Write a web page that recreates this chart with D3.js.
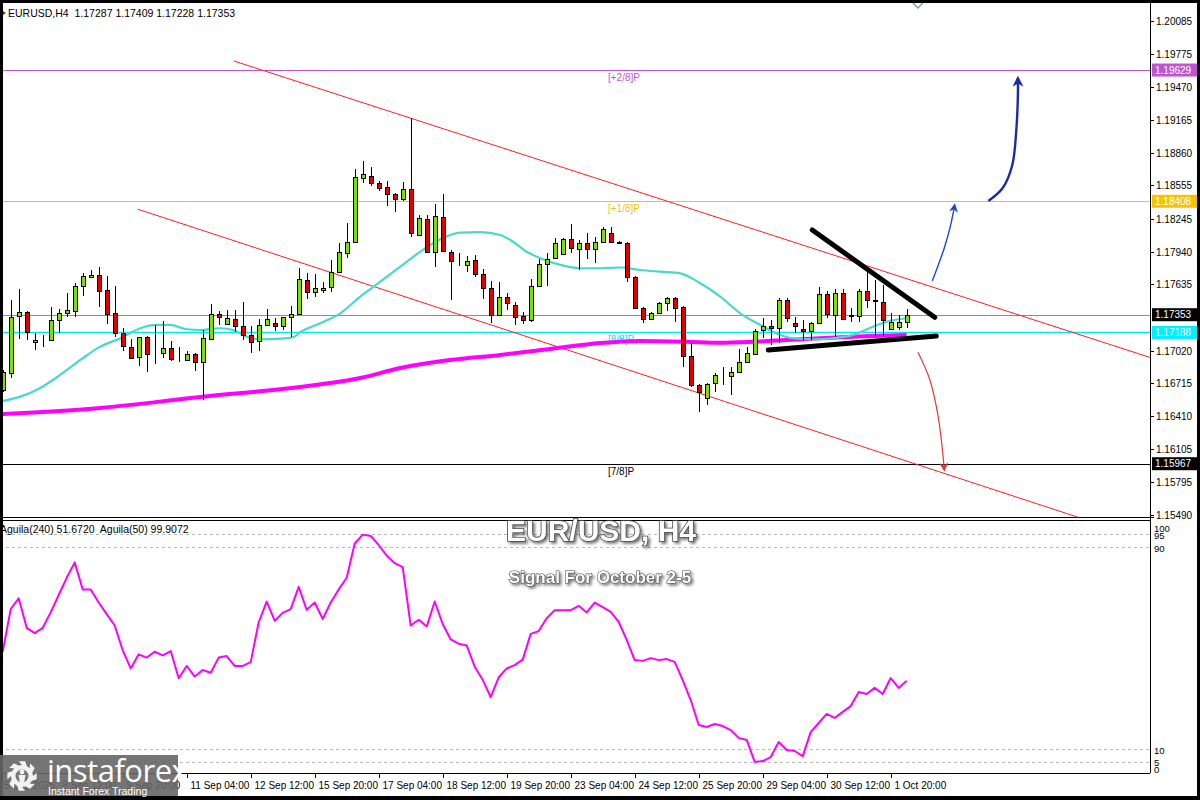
<!DOCTYPE html>
<html><head><meta charset="utf-8">
<script src="https://cdn.jsdelivr.net/npm/d3@7"></script>
<style>body{margin:0;background:#000}svg{display:block}</style>
</head><body><svg id="c" width="1200" height="800"></svg>
<script>
// ---------- DATA (EURUSD H4, bars from 5 Sep 2025 to 2 Oct 04:00) ----------
const openP = [1.16653,1.16814,1.17341,1.17378,1.17099,1.17118,1.17118,1.17304,1.17369,1.17388,
1.17620,1.17704,1.17723,1.17583,1.17369,1.17183,1.17053,1.16960,1.17146,1.16992,
1.16997,1.17044,1.16927,1.16932,1.16988,1.16913,1.17127,1.17360,1.17267,1.17313,
1.17248,1.17165,1.17109,1.17258,1.17276,1.17248,1.17332,1.17360,1.17676,1.17564,
1.17583,1.17611,1.17750,1.17927,1.18029,1.18627,1.18643,1.18578,1.18541,1.18476,
1.18429,1.18522,1.18095,1.18243,1.17936,1.18262,1.17936,1.17857,1.17816,1.17862,
1.17732,1.17602,1.17351,1.17518,1.17444,1.17341,1.17304,1.17620,1.17825,1.17881,
1.17918,1.18057,1.17964,1.18020,1.17964,1.18029,1.18113,1.18025,1.18020,1.17704,
1.17416,1.17313,1.17369,1.17462,1.17509,1.17425,1.16969,1.16700,1.16579,1.16718,
1.16793,1.16783,1.16820,1.16913,1.16988,1.17211,1.17248,1.17230,1.17490,1.17276,
1.17220,1.17202,1.17276,1.17546,1.17351,1.17555,1.17346,1.17341,1.17574,1.17490,
1.17471,1.17220,1.17239,1.17287];
const highP = [1.16839,1.17490,1.17592,1.17388,1.17183,1.17165,1.17425,1.17406,1.17555,1.17648,
1.17741,1.17769,1.17797,1.17713,1.17620,1.17230,1.17127,1.17150,1.17155,1.17258,
1.17295,1.17109,1.17053,1.17016,1.16997,1.17211,1.17453,1.17388,1.17397,1.17397,
1.17471,1.17248,1.17313,1.17406,1.17323,1.17336,1.17434,1.17788,1.17741,1.17732,
1.17657,1.17862,1.18020,1.18206,1.18708,1.18783,1.18727,1.18597,1.18597,1.18485,
1.18587,1.19183,1.18281,1.18281,1.18383,1.18476,1.17955,1.17927,1.17899,1.17909,
1.17778,1.17667,1.17657,1.17555,1.17471,1.17378,1.17685,1.17871,1.17927,1.18067,
1.18062,1.18197,1.18048,1.18113,1.18076,1.18169,1.18169,1.18039,1.18029,1.17713,
1.17425,1.17378,1.17471,1.17518,1.17518,1.17430,1.17099,1.16709,1.16718,1.16811,
1.16867,1.16867,1.17034,1.17053,1.17220,1.17323,1.17304,1.17509,1.17509,1.17332,
1.17304,1.17285,1.17611,1.17574,1.17592,1.17592,1.17416,1.17592,1.17769,1.17676,
1.17630,1.17369,1.17351,1.17409];
const lowP = [1.16634,1.16765,1.17127,1.17118,1.17025,1.17053,1.17109,1.17183,1.17332,1.17332,
1.17527,1.17695,1.17425,1.17267,1.17146,1.17016,1.16946,1.16876,1.16820,1.16895,
1.16951,1.16923,1.16913,1.16923,1.16830,1.16560,1.17118,1.17258,1.17258,1.17192,
1.17118,1.16997,1.17016,1.17248,1.17202,1.17211,1.17146,1.17351,1.17499,1.17518,
1.17555,1.17564,1.17741,1.17881,1.18020,1.18578,1.18550,1.18504,1.18364,1.18308,
1.18411,1.18076,1.18085,1.17927,1.17797,1.17936,1.17490,1.17806,1.17750,1.17704,
1.17499,1.17276,1.17341,1.17397,1.17258,1.17267,1.17285,1.17611,1.17620,1.17871,
1.17909,1.17927,1.17769,1.17871,1.17834,1.18020,1.18020,1.18011,1.17657,1.17406,
1.17276,1.17304,1.17365,1.17388,1.17285,1.16867,1.16681,1.16448,1.16514,1.16634,
1.16700,1.16607,1.16811,1.16904,1.16979,1.17137,1.17072,1.17090,1.17285,1.17183,
1.17118,1.17118,1.17270,1.17323,1.17146,1.17304,1.17285,1.17285,1.17416,1.17146,
1.17146,1.17211,1.17211,1.17228];
const closeP = [1.16820,1.17329,1.17378,1.17192,1.17118,1.17115,1.17304,1.17369,1.17397,1.17620,
1.17713,1.17723,1.17574,1.17360,1.17183,1.17062,1.16951,1.17146,1.16988,1.16988,
1.17044,1.16941,1.16923,1.16988,1.16913,1.17137,1.17360,1.17332,1.17323,1.17248,
1.17165,1.17099,1.17258,1.17313,1.17248,1.17332,1.17360,1.17685,1.17564,1.17602,
1.17602,1.17750,1.17936,1.18029,1.18634,1.18659,1.18578,1.18532,1.18476,1.18429,
1.18522,1.18113,1.18253,1.17936,1.18271,1.17946,1.17853,1.17853,1.17853,1.17732,
1.17602,1.17351,1.17518,1.17462,1.17332,1.17304,1.17620,1.17825,1.17871,1.18020,
1.18057,1.17974,1.18020,1.17964,1.18029,1.18150,1.18029,1.18020,1.17704,1.17416,
1.17313,1.17369,1.17462,1.17509,1.17416,1.16969,1.16700,1.16634,1.16709,1.16793,
1.16788,1.16820,1.16913,1.16997,1.17202,1.17248,1.17230,1.17490,1.17323,1.17248,
1.17202,1.17276,1.17546,1.17360,1.17555,1.17313,1.17341,1.17574,1.17490,1.17485,
1.17304,1.17285,1.17285,1.17353];

// Moving averages read at sample bars (bar index, price)
const maFastIdx = [0,2.2,4.7,7.2,9.7,12.2,14.7,17.2,19.2,20.9,23,24.7,27.2,28.8,30.5,32.2,34.7,36.3,37.2,39.7,42.2,44.7,47.2,49.7,52.2,54.7,57.2,59.7,62.2,63.8,65.5,67.2,69.7,72.2,74.7,77.2,79.7,82.2,84.7,87.2,89.7,92.2,94.7,97.2,98.8,101.3,103.8,106.3,108.8,110.5,113];
const maFastVal = [1.16551,1.16591,1.16672,1.16793,1.16932,1.17056,1.17134,1.17227,1.17258,1.17258,1.17218,1.17211,1.17227,1.17211,1.17149,1.17124,1.17130,1.17143,1.17192,1.17274,1.17366,1.17521,1.17660,1.17800,1.17939,1.18054,1.18116,1.18122,1.18095,1.18032,1.17939,1.17878,1.17816,1.17785,1.17785,1.17792,1.17769,1.17753,1.17738,1.17645,1.17521,1.17366,1.17258,1.17165,1.17134,1.17124,1.17134,1.17165,1.17242,1.17288,1.17320];
const maSlowIdx = [0,12.2,24.7,37.2,40.9,44.7,49.7,55.9,62.2,68.4,74.7,79.7,85.5,89.7,93.8,98,102.2,106.3,113];
const maSlowVal = [1.16430,1.16486,1.16588,1.16681,1.16718,1.16765,1.16858,1.16932,1.16979,1.17034,1.17090,1.17109,1.17102,1.17093,1.17102,1.17118,1.17134,1.17149,1.17165];

// Aguila(50) oscillator, one value per bar
const aguila = [48.5,65.4,69.7,58.0,55.9,58.0,64.1,71.0,77.8,83.9,73.2,73.2,68.0,63.4,58.9,49.1,41.9,47.5,46.2,48.5,
47.1,48.8,38.0,42.9,38.7,41.3,40.2,46.2,46.8,42.9,42.9,44.4,60.2,68.4,60.8,63.9,65.4,74.2,65.1,68.0,
61.5,68.0,73.2,77.8,91.4,94.9,94.4,90.8,86.6,83.6,82.0,58.9,61.2,58.5,68.4,59.5,53.4,51.7,51.0,42.6,
37.4,30.5,38.4,41.9,43.2,45.4,55.6,56.7,61.8,65.0,65.0,65.0,66.7,64.1,68.0,66.2,64.3,60.3,53.2,45.2,
44.9,46.0,45.2,45.6,44.5,37.3,29.4,19.5,18.7,19.9,19.1,17.5,14.4,13.6,4.9,5.2,6.8,12.8,9.6,9.2,
7.2,16.7,20.3,23.9,22.3,24.7,27.0,32.6,31.8,34.2,31.8,38.1,34.2,37.0];

// Levels
const levelPrices = [1.19629,1.18408,1.17188,1.15967];
const levelNames  = ["[+2/8]P","[+1/8]P","[8/8]P","[7/8]P"];
const levelColors = ["#bf55d0","#f5c400","#00e8f0","#000000"];
const currentPrice = 1.17353;

// Axis ticks
const priceTicks = [1.20085,1.19775,1.19470,1.19165,1.18860,1.18555,1.18245,1.17940,1.17635,1.17020,1.16715,1.16410,1.16105,1.15795,1.15490];
const timeTickIdx = [7,15,23,31,39,47,55,63,71,79,87,95,103,111];
const timeTickLabels = ["8 Sep 12:00","9 Sep 20:00","11 Sep 04:00","12 Sep 12:00","15 Sep 20:00","17 Sep 04:00","18 Sep 12:00","19 Sep 20:00","23 Sep 04:00","24 Sep 12:00","25 Sep 20:00","29 Sep 04:00","30 Sep 12:00","1 Oct 20:00"];
const oscLabels = [100,95,90,10,5,0];
const oscDashed = [95,90,10,5];

// Drawn analysis objects (bar index, price)
const chanUpper = [[28.9,1.19713],[143.4,1.16956]];
const chanLower = [[16.9,1.18334],[134.3,1.15472]];
const triUpper = [[101.2,1.18141],[116.5,1.17329]];
const triLower = [[95.7,1.17025],[116.7,1.17155]];
const arrowUp1 = [[116.2,1.17667],[117.7,1.17974],[118.5,1.18188],[119.0,1.18374]];
const arrowUp2 = [[123.2,1.18411],[125.0,1.18532],[126.2,1.18746],[126.7,1.19071],[126.9,1.19397],[126.9,1.19555]];
const arrowDown = [[114.4,1.17006],[115.9,1.16746],[116.9,1.16421],[117.4,1.16142],[117.7,1.15909]];

// ---------- DRAW ----------
const svg = d3.select("#c");
const F = "'Liberation Sans', Arial, sans-serif";
const x = d3.scaleLinear().domain([0,113]).range([2.7,906.7]);
const y = d3.scaleLinear().domain([1.15490,1.20085]).range([515,21]);
const yo = d3.scaleLinear().domain([0,100]).range([774.25,521.75]);
const axisX = 1150;

const defs = svg.append("defs");
defs.append("clipPath").attr("id","clipP").append("rect").attr("x",3).attr("y",3).attr("width",axisX-3).attr("height",514);
defs.append("clipPath").attr("id","clipI").append("rect").attr("x",3).attr("y",520).attr("width",axisX-3).attr("height",253);
const sh = defs.append("filter").attr("id","shadow").attr("x","-10%").attr("y","-30%").attr("width","130%").attr("height","170%");
sh.append("feDropShadow").attr("dx",2).attr("dy",2).attr("stdDeviation",1.6).attr("flood-color","#000").attr("flood-opacity",0.55);
function marker(id,color,w,h){
  defs.append("marker").attr("id",id).attr("viewBox","0 0 10 10").attr("refX",8).attr("refY",5)
    .attr("markerUnits","userSpaceOnUse").attr("markerWidth",w).attr("markerHeight",h).attr("orient","auto")
    .append("path").attr("d","M0,0 L10,5 L0,10 L3,5 Z").attr("fill",color);
}
marker("mBlue1","#2447d6",10,9);
marker("mBlue2","#1c2aa6",12,11);
marker("mRed","#e23a3a",10,9);

// frame
svg.append("rect").attr("width",1200).attr("height",800).attr("fill","#000");
svg.append("rect").attr("x",3).attr("y",3).attr("width",1194).attr("height",793).attr("fill","#fff");

// header
svg.append("path").attr("d","M3,11 L6,13 L3,15 Z").attr("fill","#444");
svg.append("text").attr("x",8).attr("y",17).attr("font-family",F).attr("font-size",10.5).attr("fill","#000")
  .attr("xml:space","preserve").text("EURUSD,H4  1.17287 1.17409 1.17228 1.17353");

const gp = svg.append("g").attr("clip-path","url(#clipP)");

// level lines
levelPrices.forEach((p,k)=>{
  gp.append("line").attr("x1",0).attr("x2",axisX).attr("y1",Math.round(y(p))+0.5).attr("y2",Math.round(y(p))+0.5)
    .attr("stroke",levelColors[k]).attr("stroke-width",k===2?1.4:1.1);
  gp.append("text").attr("x",608).attr("y",Math.round(y(p))+11).attr("font-family",F).attr("font-size",10)
    .attr("fill",levelColors[k]).text(levelNames[k]);
});
gp.append("line").attr("x1",0).attr("x2",axisX).attr("y1",Math.round(y(currentPrice))+0.5).attr("y2",Math.round(y(currentPrice))+0.5)
  .attr("stroke","#8090a0").attr("stroke-width",1);

// channel lines
const ln = d3.line().x(d=>x(d[0])).y(d=>y(d[1]));
[chanUpper,chanLower].forEach(c=>gp.append("path").attr("d",ln(c)).attr("stroke","#ff2020").attr("stroke-width",1).attr("fill","none"));

// slow MA (thick magenta)
const lineC = d3.line().x(d=>x(d[0])).y(d=>y(d[1])).curve(d3.curveMonotoneX);
gp.append("path").attr("d",lineC(maSlowIdx.map((v,i)=>[v,maSlowVal[i]])))
  .attr("stroke","#ff00ff").attr("stroke-width",4).attr("fill","none");
// fast MA (turquoise)
gp.append("path").attr("d",lineC(maFastIdx.map((v,i)=>[v,maFastVal[i]])))
  .attr("stroke","#48d8cc").attr("stroke-width",2.2).attr("fill","none");

// candles
const candles = d3.range(openP.length).map(i=>({i,o:openP[i],h:highP[i],l:lowP[i],c:closeP[i]}));
const cx = d=>Math.round(x(d.i));
gp.selectAll("line.w").data(candles).join("line").attr("class","w")
  .attr("x1",d=>cx(d)+0.5).attr("x2",d=>cx(d)+0.5).attr("y1",d=>Math.round(y(d.h))).attr("y2",d=>Math.round(y(d.l)))
  .attr("stroke","#000").attr("stroke-width",1);
gp.selectAll("rect.b").data(candles).join("rect").attr("class","b")
  .attr("x",d=>cx(d)-1.5).attr("width",4)
  .attr("y",d=>Math.round(y(Math.max(d.o,d.c)))+0.5)
  .attr("height",d=>Math.max(0,Math.round(y(Math.min(d.o,d.c)))-Math.round(y(Math.max(d.o,d.c)))))
  .attr("fill",d=>d.c>d.o?"#7ee000":(d.c<d.o?"#e00000":"#000")).attr("stroke","#000").attr("stroke-width",1);

// triangle lines
[triUpper,triLower].forEach(c=>gp.append("path").attr("d",ln(c)).attr("stroke","#000").attr("stroke-width",5).attr("stroke-linecap","round").attr("fill","none"));

// arrows
const lineA = d3.line().x(d=>x(d[0])).y(d=>y(d[1])).curve(d3.curveCatmullRom);
gp.append("path").attr("d",lineA(arrowUp1)).attr("stroke","#2447d6").attr("stroke-width",1.4).attr("fill","none").attr("marker-end","url(#mBlue1)");
gp.append("path").attr("d",lineA(arrowUp2)).attr("stroke","#1c2aa6").attr("stroke-width",2.4).attr("fill","none").attr("marker-end","url(#mBlue2)");
gp.append("path").attr("d",lineA(arrowDown)).attr("stroke","#e23a3a").attr("stroke-width",1.2).attr("fill","none").attr("marker-end","url(#mRed)");

// top chart-shift marker
svg.append("path").attr("d",`M${x(114.4)-5},3 L${x(114.4)},8 L${x(114.4)+5},3`).attr("stroke","#8a95a5").attr("stroke-width",1.5).attr("fill","none");

// right price axis
svg.append("line").attr("x1",axisX+0.5).attr("x2",axisX+0.5).attr("y1",3).attr("y2",773).attr("stroke","#000");
priceTicks.forEach(p=>{
  const yy=Math.round(y(p))+0.5;
  svg.append("line").attr("x1",axisX).attr("x2",axisX+4).attr("y1",yy).attr("y2",yy).attr("stroke","#000");
  svg.append("text").attr("x",axisX+6).attr("y",yy+3.5).attr("font-family",F).attr("font-size",10).attr("fill","#000").text(p.toFixed(5));
});
const boxes = [[1.19629,"#bf55d0"],[1.18408,"#f5c400"],[currentPrice,"#000"],[1.17188,"#00f0ff"],[1.15967,"#000"]];
boxes.forEach(([p,col])=>{
  const yy=y(p);
  svg.append("rect").attr("x",axisX+2).attr("y",yy-6.5).attr("width",45).attr("height",13).attr("fill",col);
  svg.append("text").attr("x",axisX+5).attr("y",yy+3.5).attr("font-family",F).attr("font-size",10).attr("fill","#fff").text(p.toFixed(5));
});

// panel separators
svg.append("line").attr("x1",0).attr("x2",axisX+4).attr("y1",517.5).attr("y2",517.5).attr("stroke","#000");
svg.append("line").attr("x1",0).attr("x2",axisX).attr("y1",520.5).attr("y2",520.5).attr("stroke","#000");
svg.append("line").attr("x1",0).attr("x2",axisX).attr("y1",773.5).attr("y2",773.5).attr("stroke","#000");

// indicator panel
const gi = svg.append("g").attr("clip-path","url(#clipI)");
oscDashed.forEach(v=>gi.append("line").attr("x1",0).attr("x2",axisX).attr("y1",Math.round(yo(v))+0.5).attr("y2",Math.round(yo(v))+0.5)
  .attr("stroke","#b8b8b8").attr("stroke-dasharray","3,3"));
gi.append("path").attr("d",d3.line().x((d,i)=>x(i)).y(d=>yo(d))(aguila))
  .attr("stroke","#ff00ff").attr("stroke-width",2).attr("fill","none").attr("stroke-linejoin","round");
svg.append("text").attr("x",0).attr("y",533).attr("font-family",F).attr("font-size",10.5).attr("fill","#000")
  .attr("xml:space","preserve").text("Aguila(240) 51.6720  Aguila(50) 99.9072");
const oscLabelY = {100:528,95:535,90:548,10:750,5:762,0:769};
oscLabels.forEach(v=>svg.append("text").attr("x",axisX+4).attr("y",oscLabelY[v]+3.5).attr("font-family",F).attr("font-size",9.5).attr("fill","#000").text(v));

// titles
svg.append("text").attr("x",601).attr("y",541).attr("text-anchor","middle").attr("font-family",F).attr("font-weight","bold")
  .attr("font-size",30).attr("fill","#fff").attr("stroke","#4a4a4a").attr("stroke-width",1.6).attr("paint-order","stroke")
  .attr("filter","url(#shadow)").text("EUR/USD, H4");
svg.append("text").attr("x",600).attr("y",583).attr("text-anchor","middle").attr("font-family",F).attr("font-weight","bold")
  .attr("font-size",17).attr("fill","#fff").attr("stroke","#4a4a4a").attr("stroke-width",1.2).attr("paint-order","stroke")
  .attr("filter","url(#shadow)").text("Signal For October 2-5");

// time axis
svg.append("text").attr("x",4).attr("y",789).attr("font-family",F).attr("font-size",10).attr("fill","#000").text("5 Sep 2025");
timeTickIdx.forEach((t,k)=>{
  const xx=Math.round(x(t))+0.5;
  svg.append("line").attr("x1",xx).attr("x2",xx).attr("y1",773).attr("y2",778).attr("stroke","#000");
  svg.append("text").attr("x",xx+3).attr("y",789).attr("font-family",F).attr("font-size",10).attr("fill","#000").text(timeTickLabels[k]);
});

// logo
const lg = svg.append("g");
lg.append("rect").attr("x",0).attr("y",755).attr("width",178).attr("height",41).attr("fill","#666").attr("fill-opacity",0.9);
const gearPts=[];
for(let k=0;k<8;k++){
  const a0=k*Math.PI/4;
  [[-0.22,15],[0.22,15],[0.45,11],[0.78,11]].forEach(([da,r])=>gearPts.push([22+r*Math.cos(a0+da),776+r*Math.sin(a0+da)]));
}
lg.append("path").attr("d",d3.line().curve(d3.curveLinearClosed)(gearPts)).attr("fill","#f2f2f2");
lg.append("circle").attr("cx",22).attr("cy",776).attr("r",6.5).attr("fill","#777");
lg.append("circle").attr("cx",22).attr("cy",772).attr("r",2.4).attr("fill","#f2f2f2");
lg.append("path").attr("d","M18.5,775 L25.5,775 L24,783 L20,783 Z").attr("fill","#f2f2f2");
lg.append("text").attr("x",47).attr("y",782).attr("font-family","'Open Sans', 'Liberation Sans', sans-serif").attr("font-size",31)
  .attr("fill","#fff").attr("letter-spacing",-0.5).text("instaforex");
lg.append("text").attr("x",48).attr("y",795).attr("font-family",F).attr("font-size",10.5).attr("fill","#fff").text("Instant Forex Trading");
</script>
</body></html>
